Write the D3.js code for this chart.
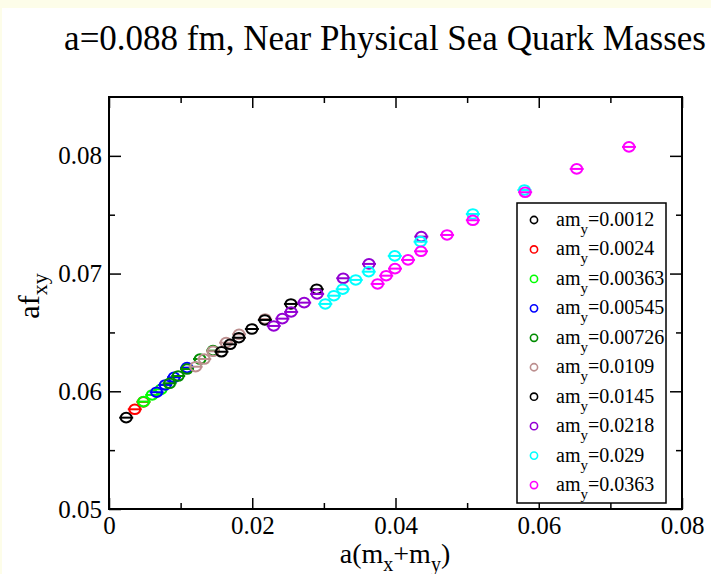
<!DOCTYPE html>
<html>
<head>
<meta charset="utf-8">
<script src="https://cdn.jsdelivr.net/npm/d3@7"></script>
<style>
    body { margin: 0; background: #fdfde9; }
    svg { display: block; }
    svg text { font-family: "Liberation Serif", Tinos, "Times New Roman", Times, serif; fill: #000; }
</style>
</head>
<body>
<div id="chart"></div>
<script>
// legend labels (am_y) and their colours
var mySeries = ['0.0012', '0.0024', '0.00363', '0.00545', '0.00726', '0.0109', '0.0145', '0.0218', '0.029', '0.0363'];
var seriesColours = ['#000000', '#ff0000', '#00ff00', '#0000ff', '#008b00', '#bc8f8f', '#000000', '#9400d3', '#00ffff', '#ff00ff'];

// a(m_x + m_y) and af_xy for every am_y
var sumMy0012 = [0.0024];
var fxyMy0012 = [0.05776];
var sumMy0024 = [0.0036, 0.0048];
var fxyMy0024 = [0.05847, 0.0591];
var sumMy00363 = [0.00483, 0.00603, 0.00726];
var fxyMy00363 = [0.05912, 0.05969, 0.06017];
var sumMy00545 = [0.00665, 0.00785, 0.00908, 0.0109];
var fxyMy00545 = [0.05992, 0.06054, 0.06119, 0.06201];
var sumMy00726 = [0.00846, 0.00966, 0.01089, 0.01271, 0.01452];
var fxyMy00726 = [0.06068, 0.0613, 0.06189, 0.06274, 0.06345];
var sumMy0109 = [0.0121, 0.0133, 0.01453, 0.01635, 0.01816, 0.0218];
var fxyMy0109 = [0.06209, 0.06274, 0.0634, 0.06413, 0.06484, 0.06614];
var sumMy0145 = [0.0157, 0.0169, 0.01813, 0.01995, 0.02176, 0.0254, 0.029];
var fxyMy0145 = [0.06336, 0.06399, 0.06455, 0.06529, 0.06606, 0.06742, 0.06867];
var sumMy0218 = [0.023, 0.0242, 0.02543, 0.02725, 0.02906, 0.0327, 0.0363, 0.0436];
var fxyMy0218 = [0.06555, 0.06617, 0.06674, 0.06753, 0.06827, 0.0696, 0.07082, 0.07314];
var sumMy029 = [0.0302, 0.0314, 0.03263, 0.03445, 0.03626, 0.0399, 0.0435, 0.0508, 0.058];
var fxyMy029 = [0.06742, 0.06812, 0.06867, 0.06946, 0.07016, 0.0715, 0.07271, 0.07506, 0.0771];
var sumMy0363 = [0.0375, 0.0387, 0.03993, 0.04175, 0.04356, 0.0472, 0.0508, 0.0581, 0.0653, 0.0726];
var fxyMy0363 = [0.06912, 0.06982, 0.07042, 0.07116, 0.07189, 0.07328, 0.07453, 0.07691, 0.07889, 0.08076];

var xTicks = [0, 0.02, 0.04, 0.06, 0.08];
var xTickLabels = ['0', '0.02', '0.04', '0.06', '0.08'];
var xMinorTicks = [0.01, 0.03, 0.05, 0.07];
var yTicks = [0.05, 0.06, 0.07, 0.08];
var yTickLabels = ['0.05', '0.06', '0.07', '0.08'];
var yMinorTicks = [0.055, 0.065, 0.075];

var sums = [sumMy0012, sumMy0024, sumMy00363, sumMy00545, sumMy00726, sumMy0109, sumMy0145, sumMy0218, sumMy029, sumMy0363];
var fxys = [fxyMy0012, fxyMy0024, fxyMy00363, fxyMy00545, fxyMy00726, fxyMy0109, fxyMy0145, fxyMy0218, fxyMy029, fxyMy0363];

var series = mySeries.map(function(label, i) {
    return {
        label: label,
        colour: seriesColours[i],
        points: sums[i].map(function(s, j) { return { x: s, y: fxys[i][j] }; })
    };
});

var width = 711, height = 574;
var frame = { left: 109, right: 682, top: 97, bottom: 509 };
var serif = '"Liberation Serif", Tinos, "Times New Roman", Times, serif';

var svg = d3.select('#chart')
    .append('svg')
    .attr('width', width)
    .attr('height', height)
    .attr('font-family', serif);

// cream edge, white page
svg.append('rect')
    .attr('x', 2)
    .attr('y', 8)
    .attr('width', width - 2)
    .attr('height', height - 8)
    .attr('fill', '#ffffff');

var x = d3.scaleLinear()
    .domain([0, 0.08])
    .range([frame.left, frame.right]);

var y = d3.scaleLinear()
    .domain([0.05, 0.085])
    .range([frame.bottom, frame.top]);

function tidy(g) {
    g.attr('font-family', serif);
    g.select('.domain').remove();
    g.selectAll('line').attr('stroke', '#000').attr('stroke-width', 1.5);
}

// major + minor ticks, pointing inwards on all four sides
svg.append('g')
    .attr('transform', 'translate(0,' + frame.bottom + ')')
    .call(d3.axisBottom(x).tickValues(xTicks).tickSize(-11).tickPadding(7)
        .tickFormat(function(d, i) { return xTickLabels[i]; }))
    .call(tidy)
    .selectAll('text')
    .attr('font-size', 25);

svg.append('g')
    .attr('transform', 'translate(0,' + frame.bottom + ')')
    .call(d3.axisBottom(x).tickValues(xMinorTicks).tickSize(-6).tickFormat(''))
    .call(tidy);

svg.append('g')
    .attr('transform', 'translate(0,' + frame.top + ')')
    .call(d3.axisTop(x).tickValues(xTicks).tickSize(-11).tickFormat(''))
    .call(tidy);

svg.append('g')
    .attr('transform', 'translate(0,' + frame.top + ')')
    .call(d3.axisTop(x).tickValues(xMinorTicks).tickSize(-6).tickFormat(''))
    .call(tidy);

svg.append('g')
    .attr('transform', 'translate(' + frame.left + ',0)')
    .call(d3.axisLeft(y).tickValues(yTicks).tickSize(-12).tickPadding(7)
        .tickFormat(function(d, i) { return yTickLabels[i]; }))
    .call(tidy)
    .selectAll('text')
    .attr('font-size', 25);

svg.append('g')
    .attr('transform', 'translate(' + frame.left + ',0)')
    .call(d3.axisLeft(y).tickValues(yMinorTicks).tickSize(-6).tickFormat(''))
    .call(tidy);

svg.append('g')
    .attr('transform', 'translate(' + frame.right + ',0)')
    .call(d3.axisRight(y).tickValues(yTicks).tickSize(-12).tickFormat(''))
    .call(tidy);

svg.append('g')
    .attr('transform', 'translate(' + frame.right + ',0)')
    .call(d3.axisRight(y).tickValues(yMinorTicks).tickSize(-6).tickFormat(''))
    .call(tidy);

// frame
svg.append('rect')
    .attr('x', frame.left)
    .attr('y', frame.top)
    .attr('width', frame.right - frame.left)
    .attr('height', frame.bottom - frame.top)
    .attr('fill', 'none')
    .attr('stroke', '#000')
    .attr('stroke-width', 2);

// data: open circles with tiny error bar caps
var groups = svg.append('g')
    .selectAll('.series')
    .data(series)
    .enter()
    .append('g')
    .classed('series', true)
    .attr('stroke', function(d) { return d.colour; });

var marks = groups.selectAll('.mark')
    .data(function(d) { return d.points; })
    .enter()
    .append('g')
    .classed('mark', true)
    .attr('transform', function(d) { return 'translate(' + x(d.x) + ',' + y(d.y) + ')'; });

marks.append('ellipse')
    .attr('rx', 5.5)
    .attr('ry', 4.8)
    .attr('fill', 'none')
    .attr('stroke-width', 2);

marks.append('line')
    .attr('x1', -7)
    .attr('x2', 7)
    .attr('y1', 0)
    .attr('y2', 0)
    .attr('stroke-width', 2);

// legend
var legend = svg.append('g');

legend.append('rect')
    .attr('x', 517)
    .attr('y', 203)
    .attr('width', 149)
    .attr('height', 300)
    .attr('fill', '#fff')
    .attr('stroke', '#000')
    .attr('stroke-width', 1.5);

var rows = legend.selectAll('.legend-row')
    .data(series)
    .enter()
    .append('g')
    .classed('legend-row', true)
    .attr('transform', function(d, i) { return 'translate(534,' + (220 + i * 29.45) + ')'; });

rows.append('circle')
    .attr('r', 3.6)
    .attr('fill', 'none')
    .attr('stroke', function(d) { return d.colour; })
    .attr('stroke-width', 1.6);

var legendText = rows.append('text')
    .attr('x', 22)
    .attr('y', 6)
    .attr('font-size', 20);

legendText.append('tspan').text('am');
legendText.append('tspan')
    .attr('font-size', 15)
    .attr('dy', 8)
    .text('y');
legendText.append('tspan')
    .attr('dy', -8)
    .text(function(d) { return '=' + d.label; });

// title and axis labels
svg.append('text')
    .attr('x', 385)
    .attr('y', 50)
    .attr('text-anchor', 'middle')
    .attr('font-size', 35)
    .text('a=0.088 fm, Near Physical Sea Quark Masses');

var xLabel = svg.append('text')
    .attr('x', 395)
    .attr('y', 563)
    .attr('text-anchor', 'middle')
    .attr('font-size', 28);
xLabel.append('tspan').text('a(m');
xLabel.append('tspan').attr('font-size', 20).attr('dy', 8).text('x');
xLabel.append('tspan').attr('dy', -8).text('+m');
xLabel.append('tspan').attr('font-size', 20).attr('dy', 8).text('y');
xLabel.append('tspan').attr('dy', -8).text(')');

var yLabel = svg.append('text')
    .attr('transform', 'translate(39,296) rotate(-90)')
    .attr('text-anchor', 'middle')
    .attr('font-size', 30);
yLabel.append('tspan').text('af');
yLabel.append('tspan').attr('font-size', 22).attr('dy', 8).text('xy');
</script>
</body>
</html>
